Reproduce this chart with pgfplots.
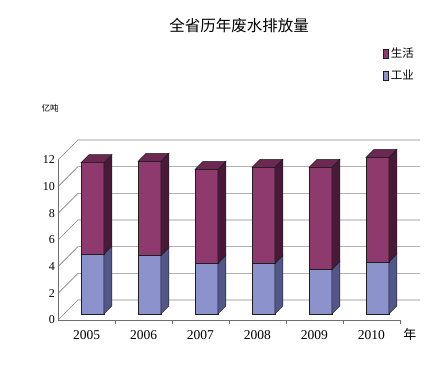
\documentclass[border=0pt]{standalone}
\usepackage{pgfplots}
\pgfplotsset{compat=1.18}
\usepackage{fontspec}
\setmainfont{Liberation Serif}
\newfontfamily\cjk{Noto Sans CJK SC}
\definecolor{shF}{RGB}{142,58,110}
\definecolor{shS}{RGB}{72,26,55}
\definecolor{shT}{RGB}{108,40,82}
\definecolor{gyF}{RGB}{140,146,204}
\definecolor{gyS}{RGB}{82,86,136}
\definecolor{edge}{RGB}{30,30,30}
\definecolor{gridc}{RGB}{135,135,135}
\definecolor{axc}{RGB}{110,110,110}
\pgfplotsset{legsq/.style={legend image code/.code={\draw[##1, draw=edge, line width=0.5bp] (0bp,-4.5bp) rectangle (5bp,4.5bp);}}}
% one face set of a bar segment: #1 category, #2 bottom, #3 top, #4 front colour, #5 side colour
\newcommand\seg[5]{%
  \pgfmathsetmacro\xl{#1+0.105-0.2}%
  \pgfmathsetmacro\xr{#1+0.105+0.2}%
  \pgfmathsetmacro\xb{#1+0.105+0.34}%
  \pgfmathsetmacro\ya{#2+0.45}%
  \pgfmathsetmacro\yb{#3+0.45}%
  \pgfmathsetmacro\yc{#2+1.05}%
  \pgfmathsetmacro\yd{#3+1.05}%
  \addplot[forget plot, fill=#4, draw=edge, line width=0.5bp] coordinates {(\xl,\ya) (\xr,\ya) (\xr,\yb) (\xl,\yb)} -- cycle;
  \addplot[forget plot, fill=#5, draw=edge, line width=0.5bp] coordinates {(\xr,\ya) (\xb,\yc) (\xb,\yd) (\xr,\yb)} -- cycle;
}
\newcommand\btop[3]{%
  \pgfmathsetmacro\xl{#1+0.105-0.2}%
  \pgfmathsetmacro\xr{#1+0.105+0.2}%
  \pgfmathsetmacro\xb{#1+0.105+0.34}%
  \pgfmathsetmacro\xc{#1+0.105-0.06}%
  \pgfmathsetmacro\yb{#2+0.45}%
  \pgfmathsetmacro\yd{#2+1.05}%
  \addplot[forget plot, fill=#3, draw=edge, line width=0.5bp] coordinates {(\xl,\yb) (\xr,\yb) (\xb,\yd) (\xc,\yd)} -- cycle;
}
% #1 category, #2 industry (工业), #3 total (工业+生活)
\newcommand\cubebar[3]{%
  \seg{#1}{0}{#2}{gyF}{gyS}%
  \seg{#1}{#2}{#3}{shF}{shS}%
  \btop{#1}{#3}{shT}%
}
\begin{document}
\begin{tikzpicture}
\path[use as bounding box, fill=white] (0,0) rectangle (448bp,376bp);
\node[font=\cjk\fontsize{15.5bp}{18bp}\selectfont] at (239bp,350bp) {全省历年废水排放量};
\begin{axis}[
  at={(58bp,56bp)}, anchor=south west,
  scale only axis, width=362bp, height=180bp,
  xmin=-0.5, xmax=5.851, ymin=0, ymax=13.5,
  clip=false,
  axis x line*=bottom, axis y line*=left,
  axis line style={draw=none}, major tick length=0pt,
  xtick={0,...,5}, xticklabels={2005,2006,2007,2008,2009,2010},
  ytick={0,2,...,12},
  /pgf/number format/assume math mode=true,
  xticklabel style={font=\fontsize{13.5bp}{15bp}\selectfont, inner sep=0pt, anchor=north, yshift=-10bp},
  yticklabel style={font=\fontsize{12bp}{14bp}\selectfont, inner sep=0pt, anchor=east, xshift=-3bp},
  legend style={at={(axis description cs:0.89,1.535)}, anchor=north west, draw=none, fill=none,
    font=\cjk\fontsize{11.5bp}{13bp}\selectfont, row sep=7bp, legend cell align=left},
]
% back wall grid lines and left wall diagonals
\addplot[forget plot, gridc, line width=0.6bp] coordinates {(-0.5,0) (-0.149,1.5) (5.851,1.5)};
\addplot[forget plot, gridc, line width=0.6bp] coordinates {(-0.5,2) (-0.149,3.5) (5.851,3.5)};
\addplot[forget plot, gridc, line width=0.6bp] coordinates {(-0.5,4) (-0.149,5.5) (5.851,5.5)};
\addplot[forget plot, gridc, line width=0.6bp] coordinates {(-0.5,6) (-0.149,7.5) (5.851,7.5)};
\addplot[forget plot, gridc, line width=0.6bp] coordinates {(-0.5,8) (-0.149,9.5) (5.851,9.5)};
\addplot[forget plot, gridc, line width=0.6bp] coordinates {(-0.5,10) (-0.149,11.5) (5.851,11.5)};
\addplot[forget plot, gridc, line width=0.6bp] coordinates {(-0.5,12) (-0.149,13.5) (5.851,13.5)};
% front axes
\addplot[forget plot, axc, line width=0.6bp] coordinates {(-0.5,12) (-0.5,0) (5.5,0)};
\addplot[forget plot, axc, line width=0.6bp, ycomb] coordinates {(0.5,-0.3) (1.5,-0.3) (2.5,-0.3) (3.5,-0.3) (4.5,-0.3) (5.5,-0.3)};
% bars
\cubebar{0}{4.48}{11.35}
\cubebar{1}{4.37}{11.45}
\cubebar{2}{3.80}{10.85}
\cubebar{3}{3.80}{11.00}
\cubebar{4}{3.35}{11.00}
\cubebar{5}{3.90}{11.75}
% legend
\addlegendimage{legsq, fill=shF}
\addlegendentry{生活}
\addlegendimage{legsq, fill=gyF}
\addlegendentry{工业}
\node[font=\cjk\fontsize{13bp}{15bp}\selectfont] at (axis cs:5.675,-1.125) {年};
\node[font=\cjk\fontsize{8.5bp}{10bp}\selectfont] at (axis cs:-0.64,15.9) {亿吨};
\end{axis}
\end{tikzpicture}
\end{document}
